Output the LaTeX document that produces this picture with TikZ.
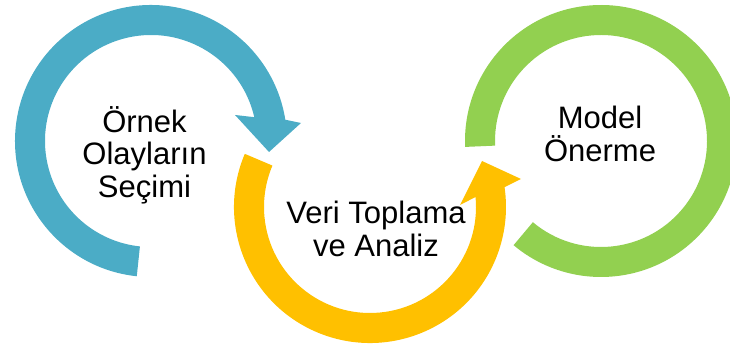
\documentclass[tikz,border=0pt]{standalone}
\usepackage{fontspec}
\setmainfont{Liberation Sans}
\definecolor{ringblue}{HTML}{4BACC6}
\definecolor{ringyellow}{HTML}{FFC000}
\definecolor{ringgreen}{HTML}{92D050}
\begin{document}
\begin{tikzpicture}[x=1pt,y=1pt,
  label text/.style={align=center,inner sep=0pt,font=\fontsize{31}{32.5}\selectfont,text=black}]
\useasboundingbox (0,0) rectangle (730,347);
\clip (0,0) rectangle (730,347);
\coordinate (cb) at (151,206);
\coordinate (cy) at (370,140);
\coordinate (cg) at (601,206);
% blue arrow
\coordinate (bwo) at (301,224);
\coordinate (btip) at (269,195);
\coordinate (bwi) at (235,232);
\fill[ringblue] ([shift={(264:136)}]cb) arc[start angle=264, end angle=9, radius=136]
  -- (bwo) -- (btip) -- (bwi)
  -- ([shift={(13:106)}]cb) arc[start angle=13, end angle=264, radius=106] -- cycle;
% yellow arrow
\coordinate (ywo) at (521,168);
\coordinate (ytip) at (482,186);
\coordinate (ywi) at (460,142);
\fill[ringyellow] ([shift={(157:136)}]cy) arc[start angle=157, end angle=368.4, radius=136]
  -- (ywo) -- (ytip) -- (ywi)
  -- ([shift={(365.4:106)}]cy) arc[start angle=365.4, end angle=157, radius=106] -- cycle;
% green ring
\fill[ringgreen] ([shift={(182.5:136)}]cg) arc[start angle=182.5, end angle=-130, radius=136]
  -- ([shift={(-130:106)}]cg) arc[start angle=-130, end angle=182.5, radius=106] -- cycle;
% texts
\node[label text] (t1) at (144.5,192) {Örnek\\Olayların\\Seçimi};
\node[label text] (t2) at (376,118.3) {Veri Toplama\\ve Analiz};
\node[label text] (t3) at (600,213.3) {Model\\Önerme};
\end{tikzpicture}
\end{document}
